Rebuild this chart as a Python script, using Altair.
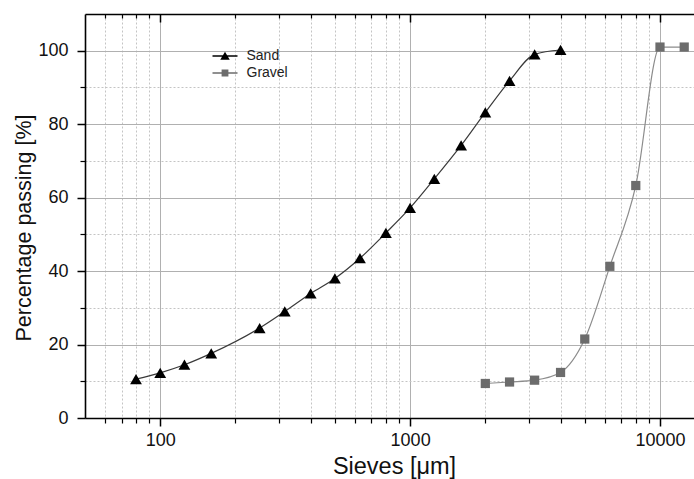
import altair as alt
import pandas as pd

# Sieve analysis: cumulative percentage passing for each material
sand_sieves = [80, 100, 125, 160, 250, 315, 400, 500, 630, 800, 1000, 1250, 1600, 2000, 2500, 3150, 4000]
sand_passing = [10.6, 12.3, 14.5, 17.6, 24.5, 29.0, 33.9, 38.0, 43.5, 50.4, 57.2, 65.1, 74.2, 83.2, 91.8, 99.0, 100.2]
gravel_sieves = [2000, 2500, 3150, 4000, 5000, 6300, 8000, 10000, 12500]
gravel_passing = [9.4, 9.8, 10.3, 12.4, 21.5, 41.3, 63.3, 101.0, 101.0]

series_names = ["Sand", "Gravel"]
marker_colors = ["#000000", "#6c6c6c"]
line_colors = ["#3a3a3a", "#8c8c8c"]
marker_shapes = ["triangle-up", "square"]
# legend glyphs: a short line with the marker drawn on top of it
legend_glyphs = [
    "M-2.5,-0.13L2.5,-0.13L2.5,0.13L-2.5,0.13Z M0,-0.85L0.95,0.75L-0.95,0.75Z",
    "M-2.5,-0.13L2.5,-0.13L2.5,0.13L-2.5,0.13Z M-0.68,-0.68L0.68,-0.68L0.68,0.68L-0.68,0.68Z",
]

major_x = [100, 1000, 10000]
minor_x = [60, 70, 80, 90, 200, 300, 400, 500, 600, 700, 800, 900,
           2000, 3000, 4000, 5000, 6000, 7000, 8000, 9000]
major_y = [0, 20, 40, 60, 80, 100]
minor_y = [10, 30, 50, 70, 90]

df = pd.concat([
    pd.DataFrame({"Series": "Sand", "Sieve": sand_sieves, "Passing": sand_passing}),
    pd.DataFrame({"Series": "Gravel", "Sieve": gravel_sieves, "Passing": gravel_passing}),
], ignore_index=True)

FONT = "Liberation Sans"
W, H = 609, 404

x_scale = alt.Scale(type="log", domain=[50, 13680], nice=False)
y_scale = alt.Scale(domain=[0, 110], nice=False)

base = alt.Chart(df)

common_axis = dict(domainColor="#000000", tickColor="#000000", labelFont=FONT,
                   titleFont=FONT, labelColor="#111111", titleColor="#111111")

# bottom axis with labels and solid major grid
x_major = alt.Axis(orient="bottom", values=major_x, format="d", grid=True,
                   gridColor="#b0b0b0", gridWidth=1, tickSize=8, tickWidth=1.5,
                   domainWidth=1.6, labelFontSize=18, labelPadding=5,
                   labelFlush=False, labelOverlap=False,
                   title="Sieves [μm]", titleFontSize=23.5, titleFontWeight="normal",
                   titleX=309, titleY=55, titleBaseline="alphabetic", **common_axis)
y_major = alt.Axis(orient="left", values=major_y, grid=True, gridColor="#b0b0b0",
                   gridWidth=1, tickSize=8, tickWidth=1.5, domainWidth=1.6,
                   labelFontSize=18, labelPadding=9, labelFlush=False,
                   title="Percentage passing [%]", titleFontSize=21.5,
                   titleFontWeight="normal", titleX=-55, titleY=213.5,
                   titleBaseline="alphabetic", **common_axis)

# minor ticks with dotted grid
x_minor = alt.Axis(orient="bottom", values=minor_x, labels=False, domain=False,
                   grid=True, gridColor="#c4c4c4", gridDash=[2, 2], gridWidth=1,
                   tickSize=5, tickWidth=1.2, tickColor="#000000", title=None)
y_minor = alt.Axis(orient="left", values=minor_y, labels=False, domain=False,
                   grid=True, gridColor="#c4c4c4", gridDash=[2, 2], gridWidth=1,
                   tickSize=5, tickWidth=1.2, tickColor="#000000", title=None)

# top frame: ticks pointing into the plot
x_top_major = alt.Axis(orient="bottom", offset=-H, values=major_x, labels=False,
                       grid=False, tickSize=8, tickWidth=1.5, domainWidth=1.6,
                       domainColor="#000000", tickColor="#000000", title=None)
x_top_minor = alt.Axis(orient="bottom", offset=-H, values=minor_x, labels=False,
                       grid=False, domain=False, tickSize=4, tickWidth=1.2,
                       tickColor="#000000", title=None)

stroke_enc = alt.Stroke("Series:N", scale=alt.Scale(domain=series_names, range=line_colors), legend=None)

sand_line = base.transform_filter(alt.datum.Series == "Sand").mark_line(
    interpolate="monotone", strokeWidth=1.2, clip=True
).encode(
    x=alt.X("Sieve:Q", scale=x_scale, axis=x_major),
    y=alt.Y("Passing:Q", scale=y_scale, axis=y_major),
    stroke=stroke_enc,
    detail="Series:N",
)

gravel_line = base.transform_filter(alt.datum.Series == "Gravel").mark_line(
    interpolate="monotone", strokeWidth=1.2, clip=True
).encode(
    x=alt.X("Sieve:Q", scale=x_scale, axis=x_top_minor),
    y=alt.Y("Passing:Q", scale=y_scale, axis=None),
    stroke=stroke_enc,
    detail="Series:N",
)

points = base.mark_point(filled=True, opacity=1, clip=True).encode(
    x=alt.X("Sieve:Q", scale=x_scale, axis=x_minor),
    y=alt.Y("Passing:Q", scale=y_scale, axis=y_minor),
    color=alt.Color("Series:N", scale=alt.Scale(domain=series_names, range=marker_colors), legend=None),
    shape=alt.Shape("Series:N", scale=alt.Scale(domain=series_names, range=marker_shapes), legend=None),
    size=alt.Size("Series:N", scale=alt.Scale(domain=series_names, range=[140, 85]), legend=None),
)

legend_props = dict(orient="none", legendX=133, legendY=35, title=None,
                    symbolSize=100, symbolOpacity=1, symbolStrokeWidth=0,
                    rowPadding=3, padding=0, labelOffset=14.5,
                    labelFont=FONT, labelFontSize=14, labelColor="#222222")

legend_layer = base.mark_point(filled=True, opacity=0).encode(
    x=alt.X("Sieve:Q", scale=x_scale, axis=x_top_major),
    y=alt.Y("Passing:Q", scale=y_scale, axis=None),
    color=alt.Color("Series:N", scale=alt.Scale(domain=series_names, range=marker_colors),
                    legend=alt.Legend(**legend_props)),
    shape=alt.Shape("Series:N", scale=alt.Scale(domain=series_names, range=legend_glyphs),
                    legend=alt.Legend(**legend_props)),
)

chart = alt.layer(sand_line, gravel_line, points, legend_layer).resolve_axis(
    x="independent", y="independent"
).resolve_scale(
    color="independent", shape="independent", size="independent", stroke="independent"
).properties(
    width=W, height=H,
    autosize=alt.AutoSizeParams(type="none"),
    padding={"left": 85, "top": 14, "right": 0, "bottom": 61},
    background="#ffffff",
).configure_view(stroke=None)

chart.save("out.html", embed_options={"renderer": "svg", "actions": False})
